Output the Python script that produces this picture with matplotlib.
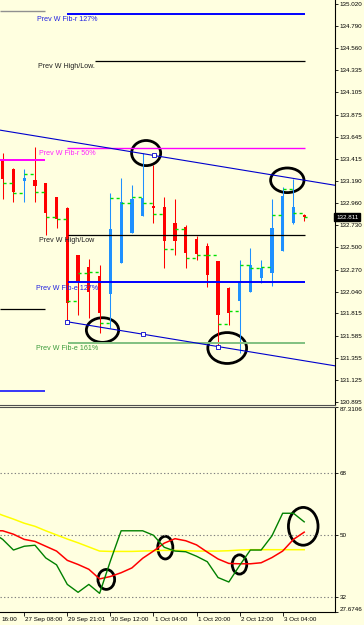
import numpy as np
import matplotlib
matplotlib.use("Agg")
import matplotlib.pyplot as plt
import matplotlib.transforms as mtransforms
from matplotlib.patches import Ellipse

plt.rcParams['font.family'] = ['Liberation Sans', 'DejaVu Sans']

# H4 candles (bar 0 .. 28)
opens = [133.404, 133.311, 133.186, 133.197, 133.166, 133.021, 132.907, 132.420, 132.296, 132.202,
         132.016, 132.337, 132.648, 132.824, 132.927, 132.917, 132.751, 132.710, 132.586, 132.513,
         132.358, 132.078, 131.944, 132.037, 132.182, 132.234, 132.461, 132.751, 132.834]
highs = [133.480, 133.321, 133.311, 133.539, 133.166, 133.021, 132.917, 132.420, 132.379, 132.316,
         133.062, 133.218, 133.145, 133.476, 133.352, 133.021, 133.000, 132.731, 132.617, 132.544,
         132.358, 132.089, 132.368, 132.493, 132.368, 133.000, 133.124, 133.207, 132.845]
lows = [133.000, 132.969, 132.969, 132.969, 132.627, 132.700, 131.747, 131.799, 131.767, 131.612,
        131.664, 132.337, 132.648, 132.824, 132.751, 132.285, 132.420, 132.285, 132.368, 132.089,
        131.467, 131.695, 131.405, 132.037, 132.130, 132.099, 132.461, 132.741, 132.772]
closes = [133.207, 133.073, 133.218, 133.135, 132.855, 132.793, 131.923, 132.151, 132.037, 131.819,
          132.689, 132.969, 133.000, 133.010, 132.907, 132.565, 132.565, 132.441, 132.430, 132.213,
          131.799, 131.819, 132.140, 132.316, 132.285, 132.700, 133.031, 132.917, 132.811]
# green step marks next to each bar
step_lvl = [133.166, 133.062, 133.259, 133.073, 132.814, 132.793, 131.944, 132.234, 132.244, 131.716,
            133.010, 132.959, 133.021, 132.959, 132.845, 132.482, 132.689, 132.389, 132.420, 132.420,
            131.705, 131.840, 132.316, 132.285, 132.296, 132.834, 133.104, 132.855, 132.814]
last_price = 132.811

# weekly levels: price, first bar, last bar
lvl_names = ['Prev W Fib-r 127%', 'Prev W High/Low.', 'Prev W Fib-r 50%', 'Prev W High/Low',
             'Prev W Fib-e 127%', 'Prev W Fib-e 161%']
lvl_price = [134.916, 134.426, 133.525, 132.627, 132.137, 131.512]
lvl_start = [6.0, 8.6, 6.0, 6.1, 6.1, 6.1]
lvl_end = [28.1, 28.1, 28.1, 28.1, 28.1, 28.1]
# older week levels (left stubs)
old_price = [134.950, 133.404, 131.861, 131.015]

# channel anchors
low_ch_x = [6, 13.03, 20]
low_ch_y = [131.729, 131.601, 131.472]
up_ch_x = [14.05]
up_ch_y = [133.451]

# indicator (bar -1 .. 28)
ind_bars = np.arange(-1, 29)
green_line = [50.9, 48.8, 45.7, 46.8, 47.1, 43.4, 41.4, 35.7, 33.4, 35.7, 33.1, 42.5, 51.3, 51.3, 51.3,
              50.0, 46.5, 45.4, 45.2, 43.9, 42.3, 37.7, 36.4, 41.2, 45.7, 45.7, 49.8, 56.4, 56.4, 53.9]
red_line = [51.3, 51.3, 50.3, 48.8, 48.2, 46.8, 45.4, 42.7, 41.5, 40.1, 37.3, 38.0, 39.1, 40.5, 43.3,
            45.4, 47.7, 49.0, 48.4, 47.2, 45.1, 43.1, 41.8, 41.7, 41.7, 42.0, 43.5, 45.4, 48.8, 50.9]
yellow_line = [57.0, 55.8, 54.7, 53.5, 52.6, 51.3, 50.1, 48.9, 47.8, 46.6, 45.4, 45.3, 45.3, 45.3, 45.4,
               45.5, 45.6, 45.6, 45.5, 45.4, 45.4, 45.4, 45.5, 45.7, 45.8, 45.8, 45.8, 45.8, 45.8, 45.8]

price_ticks = [135.020, 134.790, 134.560, 134.335, 134.105, 133.875, 133.645, 133.415, 133.190,
               132.960, 132.730, 132.500, 132.270, 132.040, 131.815, 131.585, 131.355, 131.125, 130.895]
time_ticks = [-2, 2, 6, 10, 14, 18, 22, 26]
time_labels = ['16:00', '27 Sep 08:00', '29 Sep 21:01', '30 Sep 12:00', '1 Oct 04:00',
               '1 Oct 20:00', '2 Oct 12:00', '3 Oct 04:00']

bg = '#ffffe0'
fig = plt.figure(figsize=(3.64, 6.25), dpi=100, facecolor=bg)
ax1 = fig.add_axes([0, 1 - 405 / 625, 335 / 364, 405 / 625], facecolor=bg)
ax2 = fig.add_axes([0, 1 - 612 / 625, 335 / 364, 205 / 625], facecolor=bg)
xlo, xhi = -0.25, 30.86

# ---- price panel
bars = np.arange(len(opens))
for i in bars:
    up = closes[i] >= opens[i]
    c = '#1e90ff' if up else '#ff0000'
    ax1.vlines(i, lows[i], highs[i], color=c, lw=0.75)
    ax1.bar(i, max(abs(closes[i] - opens[i]), 0.012), bottom=min(opens[i], closes[i]),
            width=0.3, color=c, edgecolor='none')
    x_end = min(i + 1, bars[-1] + 0.4)
    ax1.plot([i, x_end], [step_lvl[i], step_lvl[i]], color='#00e000', lw=1.0, dashes=(2.2, 2.2))

lvl_colors = ['#0000ff', 'black', '#ff00ff', 'black', '#0000ff', '#80c080']
lvl_widths = [1.4, 0.9, 1.0, 0.9, 1.4, 1.4]
txt_colors = ['#2020e0', '#202020', '#ff20ff', '#202020', '#2020e0', '#3a9a3a']
txt_x = [3.18, 3.28, 3.37, 3.37, 3.09, 3.09]
txt_y = [134.864, 134.377, 133.471, 132.575, 132.078, 131.457]
for k in range(len(lvl_price)):
    ax1.hlines(lvl_price[k], lvl_start[k], lvl_end[k], color=lvl_colors[k], lw=lvl_widths[k])
    ax1.text(txt_x[k], txt_y[k], lvl_names[k], color=txt_colors[k], fontsize=5.1,
             ha='left', va='center')

old_colors = ['#909090', '#ff00ff', 'black', '#0000ff']
old_widths = [1.0, 1.4, 0.9, 1.1]
for k in range(len(old_price)):
    ax1.hlines(old_price[k], xlo, 3.95, color=old_colors[k], lw=old_widths[k])

slope = (low_ch_y[-1] - low_ch_y[0]) / (low_ch_x[-1] - low_ch_x[0])
xs = np.array([xlo, xhi])
ax1.plot(xs, up_ch_y[0] + slope * (xs - up_ch_x[0]), color='#0000cd', lw=0.8)
xs2 = np.array([low_ch_x[0], xhi])
ax1.plot(xs2, low_ch_y[0] + slope * (xs2 - low_ch_x[0]), color='#0000cd', lw=0.8)
ax1.plot(low_ch_x, low_ch_y, 's', ms=2.2, mfc='white', mec='#0000cd', mew=0.6)
ax1.plot(up_ch_x, up_ch_y, 's', ms=2.2, mfc='white', mec='#0000cd', mew=0.6)

# circles on price panel: center bar, center price, width, height
for cx, cy, w, h in [(13.32, 133.476, 2.7, 0.26), (26.43, 133.194, 3.1, 0.255),
                     (9.27, 131.643, 3.0, 0.255), (20.85, 131.457, 3.6, 0.32)]:
    ax1.add_patch(Ellipse((cx, cy), w, h, fill=False, edgecolor='black', lw=2.0))

ax1.set_xlim(xlo, xhi)
ax1.set_ylim(130.867, 135.061)
ax1.yaxis.tick_right()
ax1.set_yticks(price_ticks)
ax1.set_yticklabels(['%.3f' % p for p in price_ticks])
ax1.tick_params(axis='y', direction='out', length=2, width=0.6, labelsize=4.5, pad=1.5)
ax1.set_xticks([])
for s in ['left', 'top']:
    ax1.spines[s].set_visible(False)
ax1.spines['right'].set_linewidth(0.8)
ax1.spines['bottom'].set_color('#505050')
ax1.spines['bottom'].set_linewidth(0.8)

tr = mtransforms.blended_transform_factory(ax1.transAxes, ax1.transData)
ax1.text(1.003, last_price, '%.3f' % last_price, transform=tr, color='white', fontsize=4.5,
         ha='left', va='center', clip_on=False,
         bbox=dict(facecolor='black', edgecolor='black', pad=1.2))

# ---- indicator panel
for lv in [32, 50, 68]:
    ax2.axhline(lv, color='#808080', lw=0.8, dashes=(1.2, 2.0))
ax2.plot(ind_bars, yellow_line, color='#ffff00', lw=1.1)
ax2.plot(ind_bars, red_line, color='#ff0000', lw=1.1)
ax2.plot(ind_bars, green_line, color='#008000', lw=1.0)

for cx, cy, w, h in [(9.62, 37.15, 1.55, 5.8), (15.1, 46.4, 1.4, 6.6),
                     (21.99, 41.5, 1.35, 5.6), (27.91, 52.6, 2.75, 11.0)]:
    ax2.add_patch(Ellipse((cx, cy), w, h, fill=False, edgecolor='black', lw=2.0))

ax2.set_xlim(xlo, xhi)
ax2.set_ylim(27.6746, 87.3106)
ax2.yaxis.tick_right()
ind_ticks = [27.6746, 32, 50, 68, 87.3106]
ax2.set_yticks(ind_ticks)
ax2.set_yticklabels(['27.6746', '32', '50', '68', '87.3106'])
ax2.tick_params(axis='y', direction='out', length=2, width=0.6, labelsize=4.5, pad=1.5)
labs = ax2.get_yticklabels()
labs[0].set_va('bottom')
labs[-1].set_va('top')

vis = [t for t in time_ticks if t >= xlo]
ax2.set_xticks(vis)
ax2.set_xticklabels([])
ax2.tick_params(axis='x', direction='out', length=3, width=0.6)
trx = mtransforms.blended_transform_factory(ax2.transData, ax2.transAxes)
for t, lab in zip(time_ticks, time_labels):
    # the first tick sits left of the view, only its time part shows at the edge
    tx = t + 0.1 if t >= xlo else xlo + 0.15
    ax2.text(tx, -0.037, lab, transform=trx, fontsize=4.5, ha='left', va='center',
             clip_on=False)
ax2.spines['left'].set_visible(False)
ax2.spines['top'].set_color('#505050')
for s in ['top', 'right', 'bottom']:
    ax2.spines[s].set_linewidth(0.8)

fig.savefig('out.png', dpi=100, facecolor=bg)
